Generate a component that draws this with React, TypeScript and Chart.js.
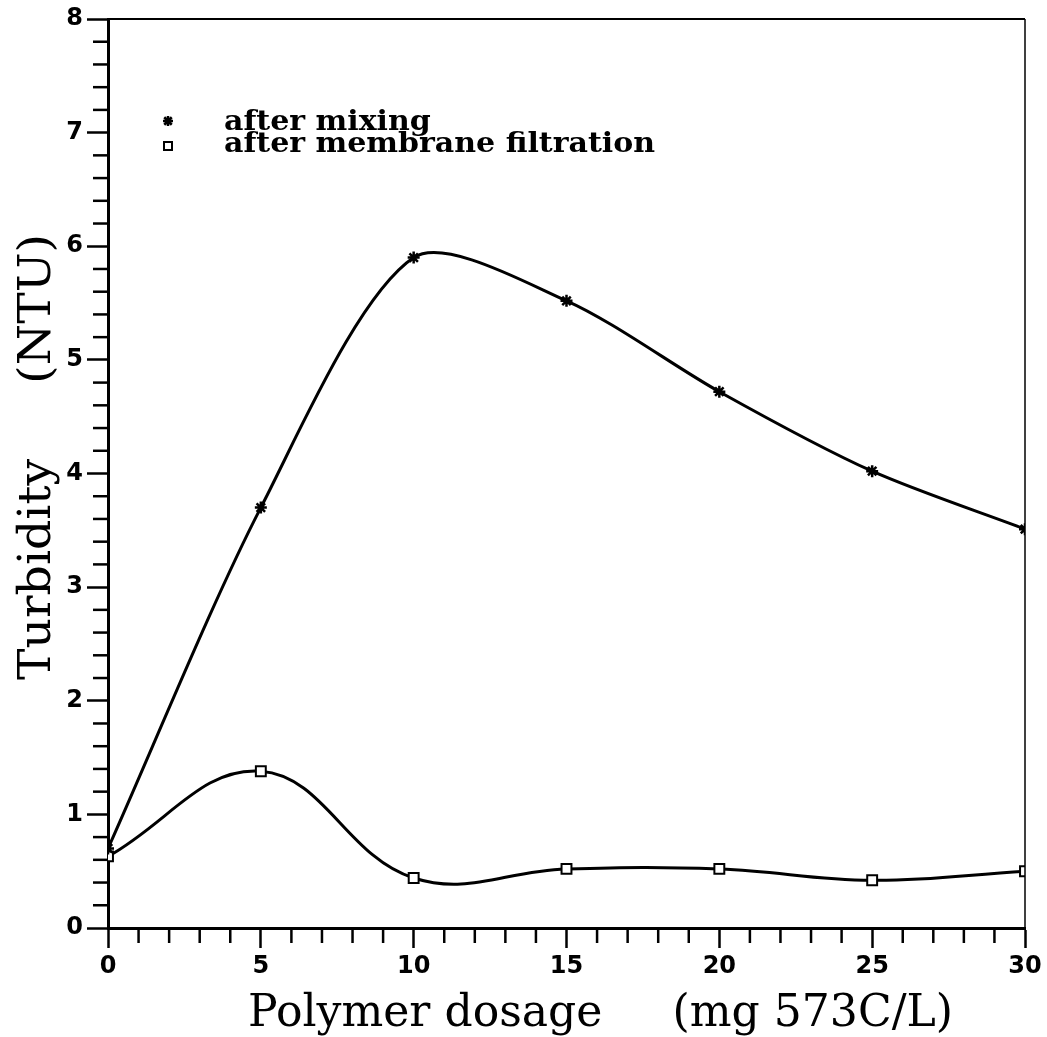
import React, { useEffect, useRef } from "react";
import { Chart, registerables } from "chart.js";

Chart.register(...registerables);

const dosage = [0, 5, 10, 15, 20, 25, 30];
const afterMixing = [0.7, 3.7, 5.9, 5.52, 4.72, 4.02, 3.51];
const afterMembrane = [0.63, 1.38, 0.44, 0.52, 0.52, 0.42, 0.5];
const legendLabels = ["after mixing", "after membrane filtration"];
const xTitle = "Polymer dosage     (mg 573C/L)";
const yTitle = "Turbidity     (NTU)";
const xRange = [0, 30];
const yRange = [0, 8];
const xMajorStep = 5;
const yMajorStep = 1;
const xMinorStep = 1;
const yMinorStep = 0.2;

const TITLE_FONT = '44px "DejaVu Serif", serif';
const LEGEND_FONT = 'bold 27px "DejaVu Serif", serif';

const framePlugin = {
  id: "framePlugin",
  afterDraw(chart: any) {
    const ctx = chart.ctx;
    const { left, right, top, bottom } = chart.chartArea;
    const xs = chart.scales.x;
    const ys = chart.scales.y;
    ctx.save();
    ctx.strokeStyle = "#000";
    ctx.lineWidth = 2;
    ctx.beginPath();
    ctx.moveTo(left, top);
    ctx.lineTo(right, top);
    ctx.stroke();
    ctx.lineWidth = 1.5;
    ctx.beginPath();
    ctx.moveTo(right, top);
    ctx.lineTo(right, bottom);
    ctx.stroke();
    ctx.lineWidth = 2.5;
    for (let i = 1; i < (yRange[1] - yRange[0]) / yMinorStep; i++) {
      const v = yRange[0] + i * yMinorStep;
      if (Math.abs(v / yMajorStep - Math.round(v / yMajorStep)) < 1e-6) continue;
      const py = ys.getPixelForValue(v);
      ctx.beginPath();
      ctx.moveTo(left - 15, py);
      ctx.lineTo(left, py);
      ctx.stroke();
    }
    for (let v = xRange[0] + xMinorStep; v < xRange[1]; v += xMinorStep) {
      if (v % xMajorStep === 0) continue;
      const px = xs.getPixelForValue(v);
      ctx.beginPath();
      ctx.moveTo(px, bottom);
      ctx.lineTo(px, bottom + 15);
      ctx.stroke();
    }
    // legend
    const lx = 168;
    const ly1 = 121;
    const ly2 = 146;
    ctx.lineWidth = 2.5;
    const r = 5;
    ctx.beginPath();
    ctx.moveTo(lx, ly1 - r);
    ctx.lineTo(lx, ly1 + r);
    ctx.moveTo(lx - r, ly1);
    ctx.lineTo(lx + r, ly1);
    const d = r * 0.75;
    ctx.moveTo(lx - d, ly1 - d);
    ctx.lineTo(lx + d, ly1 + d);
    ctx.moveTo(lx - d, ly1 + d);
    ctx.lineTo(lx + d, ly1 - d);
    ctx.stroke();
    ctx.lineWidth = 2;
    ctx.strokeRect(lx - 4, ly2 - 4, 8, 8);
    ctx.fillStyle = "#000";
    ctx.font = LEGEND_FONT;
    ctx.textBaseline = "alphabetic";
    ctx.textAlign = "left";
    const w2 = ctx.measureText(legendLabels[1]).width;
    const sx = 431 / w2;
    ctx.save();
    ctx.translate(224, 130);
    ctx.scale(sx, 1);
    ctx.fillText(legendLabels[0], 0, 0);
    ctx.restore();
    ctx.save();
    ctx.translate(224, 152);
    ctx.scale(sx, 1);
    ctx.fillText(legendLabels[1], 0, 0);
    ctx.restore();
    // axis titles
    ctx.font = TITLE_FONT;
    const wx = ctx.measureText(xTitle).width;
    const tsx = 705 / wx;
    ctx.save();
    ctx.translate(248, 1026);
    ctx.scale(tsx, 1);
    ctx.fillText(xTitle, 0, 0);
    ctx.restore();
    const wy = ctx.measureText(yTitle).width;
    ctx.save();
    ctx.translate(50, 680);
    ctx.rotate(-Math.PI / 2);
    ctx.scale(446 / wy, 1);
    ctx.fillText(yTitle, 0, 0);
    ctx.restore();
    ctx.restore();
  },
};

export default function App() {
  const ref = useRef<HTMLCanvasElement>(null);
  useEffect(() => {
    const canvas = ref.current;
    if (!canvas) return;
    const chart = new Chart(canvas, {
      type: "line",
      data: {
        datasets: [
          {
            label: legendLabels[0],
            data: dosage.map((x, i) => ({ x, y: afterMixing[i] })),
            borderColor: "#000",
            borderWidth: 3,
            pointStyle: "star",
            pointRadius: 6,
            pointBorderWidth: 2.5,
            pointBorderColor: "#000",
            pointBackgroundColor: "#000",
            tension: 0.28,
            fill: false,
          },
          {
            label: legendLabels[1],
            data: dosage.map((x, i) => ({ x, y: afterMembrane[i] })),
            borderColor: "#000",
            borderWidth: 3,
            pointStyle: "rect",
            pointRadius: 7,
            pointBorderWidth: 2,
            pointBorderColor: "#000",
            pointBackgroundColor: "#fff",
            tension: 0.4,
            fill: false,
          },
        ],
      },
      options: {
        responsive: false,
        animation: false,
        events: [],
        layout: { padding: { left: 0, top: 19, right: 22, bottom: 0 } },
        plugins: {
          legend: { display: false },
          tooltip: { enabled: false },
          title: { display: false },
        },
        scales: {
          x: {
            type: "linear",
            min: xRange[0],
            max: xRange[1],
            ticks: {
              stepSize: xMajorStep,
              color: "#000",
              font: { family: "DejaVu Sans", weight: "bold", size: 24 },
              padding: 4,
              maxRotation: 0,
            },
            grid: {
              drawOnChartArea: false,
              drawTicks: true,
              tickLength: 20,
              tickWidth: 2.5,
              tickColor: "#000",
            },
            border: { color: "#000", width: 3 },
            afterFit: (s: any) => {
              s.height = 109;
            },
          },
          y: {
            type: "linear",
            min: yRange[0],
            max: yRange[1],
            ticks: {
              stepSize: yMajorStep,
              color: "#000",
              font: { family: "DejaVu Sans", weight: "bold", size: 24 },
              padding: 4,
            },
            grid: {
              drawOnChartArea: false,
              drawTicks: true,
              tickLength: 21,
              tickWidth: 2.5,
              tickColor: "#000",
            },
            border: { color: "#000", width: 3 },
            afterFit: (s: any) => {
              s.width = 108;
            },
          },
        },
      },
      plugins: [framePlugin],
    });
    return () => chart.destroy();
  }, []);
  return (
    <div style={{ position: "absolute", left: 0, top: 0, width: 1047, height: 1037, background: "#fff" }}>
      <canvas ref={ref} width={1047} height={1037} style={{ display: "block" }} />
    </div>
  );
}
